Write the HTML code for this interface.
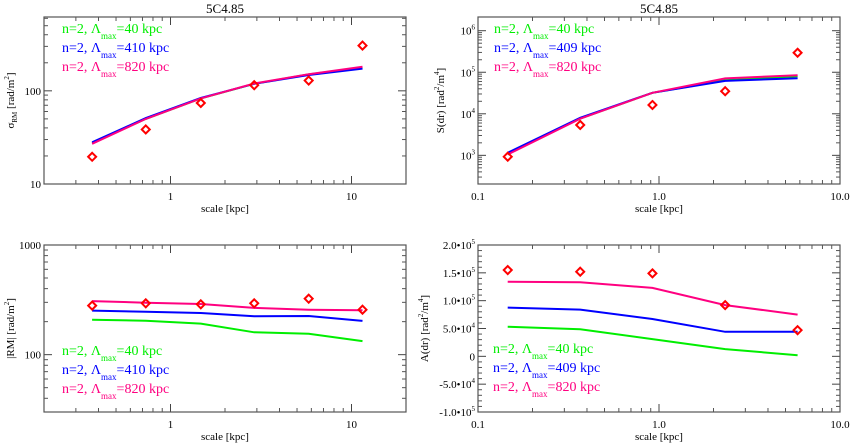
<!DOCTYPE html>
<html><head><meta charset="utf-8"><style>
body{margin:0;background:#fff;}
svg{display:block;font-family:"Liberation Serif",serif;}
svg text{font-family:"Liberation Serif",serif;}
</style></head><body>
<svg id="c" width="851" height="444" viewBox="0 0 851 444"></svg>
<script>
// ---- data ----
const scaleLeft = [0.369, 0.73, 1.47, 2.9, 5.8, 11.5];
const scaleRight = [0.146, 0.367, 0.92, 2.32, 5.83];
const sigmaObs = [19.6, 38.5, 74, 115, 129, 306];
const sigmaGreen = [27.5, 50, 83, 119, 150, 178];
const sigmaBlue = [28, 51, 84, 119, 148, 173];
const sigmaPink = [27, 50, 83, 120, 151, 181];
const sObs = [926, 5370, 16300, 35000, 295000];
const sGreen = [1100, 7700, 32000, 64000, 80000];
const sBlue = [1150, 8000, 32000, 62000, 72000];
const sPink = [1050, 7600, 32000, 71000, 85000];
const rmObs = [280, 294, 288, 294, 324, 257];
const rmGreen = [208, 204, 192, 160, 155, 133];
const rmBlue = [252, 246, 240, 224, 225, 203];
const rmPink = [308, 298, 290, 267, 257, 254];
const aObs = [155000, 152000, 149000, 92000, 47000];
const aGreen = [53000, 48500, 31000, 13000, 2000];
const aBlue = [87500, 84000, 67000, 44000, 44000];
const aPink = [134000, 133000, 123000, 92000, 75000];
const legendLeft = ["=40 kpc", "=410 kpc", "=820 kpc"];
const legendRight = ["=40 kpc", "=409 kpc", "=820 kpc"];
const seriesColors = ["#00ee00", "#0000ff", "#ff0080"];
// ---- helpers ----
const svg = document.getElementById('c');
const NS = 'http://www.w3.org/2000/svg';
function mk(tag, attrs, parent){const e=document.createElementNS(NS,tag);for(const k in attrs)e.setAttribute(k,attrs[k]);(parent||svg).appendChild(e);return e;}
function txt(x,y,s,attrs,parent){const t=mk('text',Object.assign({x:x,y:y,'font-size':11,fill:'#000','font-family':'Liberation Serif, serif'},attrs||{}),parent);t.textContent=s;return t;}
function logAxis(lo,hi,a,b){return v=>a+(Math.log10(v)-Math.log10(lo))/(Math.log10(hi)-Math.log10(lo))*(b-a);}
function linAxis(lo,hi,a,b){return v=>a+(v-lo)/(hi-lo)*(b-a);}

function panel(o){
  const g=mk('g',{});
  
  
  const L=o.box[0],T=o.box[1],R=o.box[2],B=o.box[3];
  const X=o.xs, Y=o.ys;
  o.xMajor.forEach((v,i)=>{const x=X(v);
    mk('line',{x1:x,y1:B,x2:x,y2:B-8,stroke:'#444'},g);mk('line',{x1:x,y1:T,x2:x,y2:T+8,stroke:'#444'},g);
    const t=txt(x,B+16,o.xLabels[i],{'text-anchor':'middle'},g);});
  o.xMinor.forEach(v=>{const x=X(v);mk('line',{x1:x,y1:B,x2:x,y2:B-4,stroke:'#555'},g);mk('line',{x1:x,y1:T,x2:x,y2:T+4,stroke:'#555'},g);});
  o.yMajor.forEach((v,i)=>{const y=Y(v);
    mk('line',{x1:L,y1:y,x2:L+8,y2:y,stroke:'#444'},g);mk('line',{x1:R,y1:y,x2:R-8,y2:y,stroke:'#444'},g);
    const t=txt(L-3,y+4,'',{'text-anchor':'end'},g);t.innerHTML=o.yLabels[i];});
  o.yMinor.forEach(v=>{const y=Y(v);mk('line',{x1:L,y1:y,x2:L+4,y2:y,stroke:'#555'},g);mk('line',{x1:R,y1:y,x2:R-4,y2:y,stroke:'#555'},g);});
  const fr=mk('rect',{x:L,y:T,width:R-L,height:B-T,fill:'none',stroke:'#555','stroke-width':1.2},g);
  
  const names=['model-line-40kpc','model-line-410kpc','model-line-820kpc'];
  o.lines.forEach((arr,k)=>{
    const pts=arr.map((v,i)=>X(o.xd[i]).toFixed(1)+','+Y(v).toFixed(1)).join(' ');
    const p=mk('polyline',{points:pts,fill:'none',stroke:seriesColors[k],'stroke-width':2},g);
    
  });
  o.obs.forEach((v,i)=>{const x=X(o.xd[i]),y=Y(v);
    const d=mk('polygon',{points:`${x},${y-4} ${x+4},${y} ${x},${y+4} ${x-4},${y}`,fill:'none',stroke:'#ff0000','stroke-width':2},g);
    });
  o.legend.forEach((s,k)=>{const y=o.legY+k*19;
    const t=txt(o.legX,y,'',{'font-size':14,fill:seriesColors[k]},g);
    t.innerHTML=`n=2, Λ<tspan font-size="9" dy="6">max</tspan><tspan dy="-6">${s}</tspan>`;
    });
  if(o.title){const t=txt((L+R)/2,13,o.title,{'text-anchor':'middle','font-size':13},g);}
  const xt=txt((L+R)/2,B+28,'scale [kpc]',{'text-anchor':'middle','font-size':11},g);
  
  const cy=(T+B)/2;
  const yt=txt(o.yTitleX,cy,'',{'text-anchor':'middle','font-size':11,transform:`rotate(-90 ${o.yTitleX} ${cy})`},g);
  yt.innerHTML=o.yTitle;
}
function logMinor(lo,hi){const r=[];for(let e=Math.floor(Math.log10(lo));e<=Math.ceil(Math.log10(hi));e++)for(let m=2;m<=9;m++){const v=m*Math.pow(10,e);if(v>lo&&v<hi)r.push(v);}return r;}
function sup(m,e){return `${m}<tspan font-size="7" dy="-5">${e}</tspan>`;}

const XL=logAxis(0.2,20,44,406), XR=logAxis(0.1,10,478,840);
panel({name:'panel-sigma-rm',box:[44,17,406,184],xs:XL,ys:logAxis(10,620,184,17),xd:scaleLeft,
  xMajor:[1,10],xLabels:['1','10'],xMinor:logMinor(0.2,20).filter(v=>v!==10),
  yMajor:[10,100],yLabels:['10','100'],yMinor:logMinor(10,620).filter(v=>v!==100),
  lines:[sigmaGreen,sigmaBlue,sigmaPink],obs:sigmaObs,legend:legendLeft,legX:62,legY:33,title:'5C4.85',
  yTitleX:14,yTitle:'σ<tspan font-size="7" dy="3">RM</tspan><tspan dy="-3"> [rad/m</tspan><tspan font-size="7" dy="-5">2</tspan><tspan dy="5">]</tspan>'});
panel({name:'panel-structure-function',box:[478,17,840,184],xs:XR,ys:logAxis(Math.pow(10,2.31),Math.pow(10,6.33),184,17),xd:scaleRight,
  xMajor:[0.1,1,10],xLabels:['0.1','1.0','10.0'],xMinor:logMinor(0.1,10).filter(v=>Math.abs(v-1)>1e-9),
  yMajor:[1e3,1e4,1e5,1e6],yLabels:[sup('10','3'),sup('10','4'),sup('10','5'),sup('10','6')],yMinor:logMinor(210,2e6).filter(v=>![1e3,1e4,1e5,1e6].some(m=>Math.abs(v-m)<1e-6)),
  lines:[sGreen,sBlue,sPink],obs:sObs,legend:legendRight,legX:494,legY:33,title:'5C4.85',
  yTitleX:444,yTitle:'S(dr) [rad<tspan font-size="7" dy="-5">2</tspan><tspan dy="5">/m</tspan><tspan font-size="7" dy="-5">4</tspan><tspan dy="5">]</tspan>'});
panel({name:'panel-abs-rm',box:[44,245,406,412],xs:XL,ys:logAxis(30,1000,412,245),xd:scaleLeft,
  xMajor:[1,10],xLabels:['1','10'],xMinor:logMinor(0.2,20).filter(v=>v!==10),
  yMajor:[100,1000],yLabels:['100','1000'],yMinor:logMinor(30,1000).filter(v=>v!==100&&v!==1000),
  lines:[rmGreen,rmBlue,rmPink],obs:rmObs,legend:legendLeft,legX:62,legY:355,
  yTitleX:14,yTitle:'|RM| [rad/m<tspan font-size="7" dy="-5">2</tspan><tspan dy="5">]</tspan>'});
panel({name:'panel-a-dr',box:[478,245,840,412],xs:XR,ys:linAxis(-1e5,2e5,412,245),xd:scaleRight,
  xMajor:[0.1,1,10],xLabels:['0.1','1.0','10.0'],xMinor:logMinor(0.1,10).filter(v=>Math.abs(v-1)>1e-9),
  yMajor:[-1e5,-5e4,0,5e4,1e5,1.5e5,2e5],
  yLabels:['-1.0•'+sup('10','5'),'-5.0•'+sup('10','4'),'0','5.0•'+sup('10','4'),'1.0•'+sup('10','5'),'1.5•'+sup('10','5'),'2.0•'+sup('10','5')],
  yMinor:[-9e4,-8e4,-7e4,-6e4,-4e4,-3e4,-2e4,-1e4,1e4,2e4,3e4,4e4,6e4,7e4,8e4,9e4,1.1e5,1.2e5,1.3e5,1.4e5,1.6e5,1.7e5,1.8e5,1.9e5],
  lines:[aGreen,aBlue,aPink],obs:aObs,legend:legendRight,legX:493,legY:353,
  yTitleX:428,yTitle:'A(dr) [rad<tspan font-size="7" dy="-5">2</tspan><tspan dy="5">/m</tspan><tspan font-size="7" dy="-5">4</tspan><tspan dy="5">]</tspan>'});
</script>
</body></html>
